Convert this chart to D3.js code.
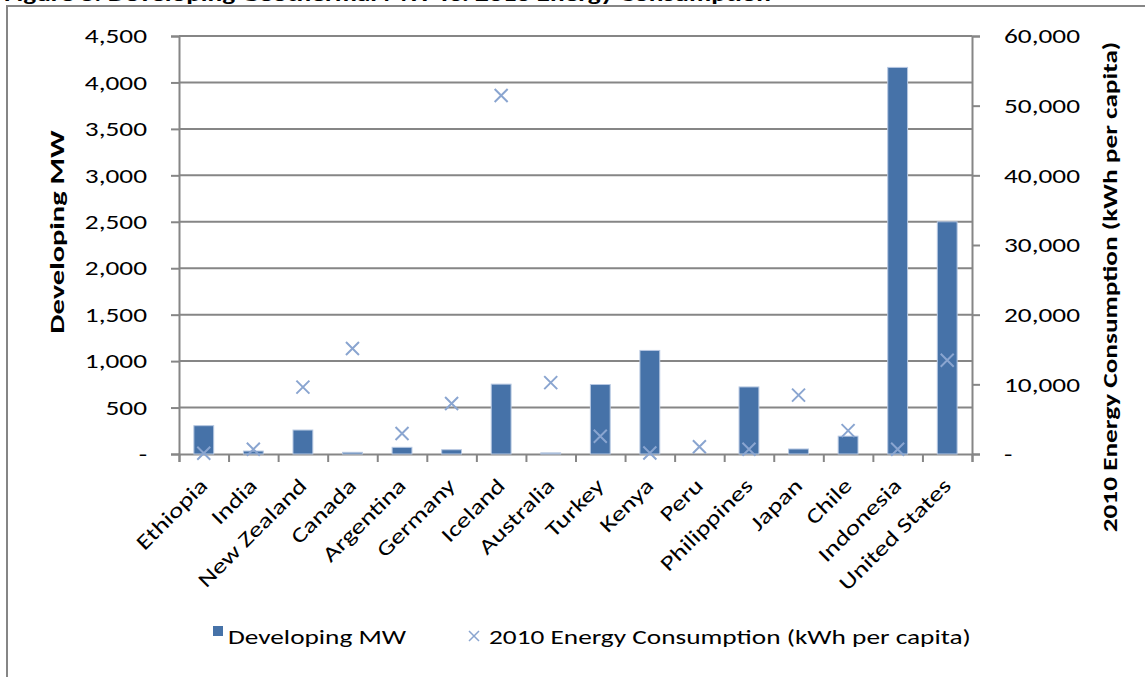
<!DOCTYPE html>
<html>
<head>
<meta charset="utf-8">
<script src="https://cdn.jsdelivr.net/npm/d3@7"></script>
<style>
  body { margin: 0; background: #fff; }
  svg text { font-family: Carlito, Calibri, Lato, sans-serif; fill: #000; }
</style>
</head>
<body>
<svg id="chart" width="1145" height="677"></svg>
<script>

// data
const countries = ["Ethiopia", "India", "New Zealand", "Canada", "Argentina", "Germany",
    "Iceland", "Australia", "Turkey", "Kenya", "Peru", "Philippines", "Japan", "Chile",
    "Indonesia", "United States"]
const developingMW = [305, 32, 258, 18, 72, 46, 752, 12, 748, 1115, 0, 722, 54, 192, 4162, 2500]
const energyKwh = [100, 680, 9600, 15150, 2950, 7250, 51450, 10250, 2550, 150, 1050, 680, 8450, 3350, 680, 13450]
const leftTicks = [0, 500, 1000, 1500, 2000, 2500, 3000, 3500, 4000, 4500]
const rightTicks = [0, 10000, 20000, 30000, 40000, 50000, 60000]

const grey = "#868686"
const barColor = "#4672a8"
const markColor = "#8aa5d0"
const wide = 1.3   // the text in the picture is drawn wider than Lato

const svg = d3.select("#chart")

// outer chart frame (runs off the right and bottom of the picture)
svg.append("rect")
    .attr("x", 7).attr("y", 6)
    .attr("width", 1200).attr("height", 720)
    .attr("fill", "none").attr("stroke", grey).attr("stroke-width", 2)

// title, mostly cut off at the top
svg.append("text")
    .attr("transform", "translate(4,1) scale(" + wide + ",1)")
    .style("font-size", "21px").style("font-weight", "bold")
    .text("Figure 3: Developing Geothermal MW vs. 2010 Energy Consumption")

const plot = {left: 179, right: 972, top: 36, bottom: 454}

const yL = d3.scaleLinear().domain([0, 4500]).range([plot.bottom, plot.top])
const yR = d3.scaleLinear().domain([0, 60000]).range([plot.bottom, plot.top])
const x = d3.scaleBand().domain(countries).range([plot.left, plot.right])
    .paddingInner(0.6).paddingOuter(0.3)
const xEdge = d3.scaleLinear().domain([0, countries.length]).range([plot.left, plot.right])

const fmt = (d) => d === 0 ? "-" : d3.format(",")(d)

// gridlines
svg.append("g").selectAll("line")
    .data(leftTicks.filter(d => d > 0))
    .join("line")
        .attr("x1", plot.left).attr("x2", plot.right)
        .attr("y1", d => yL(d)).attr("y2", d => yL(d))
        .attr("stroke", grey).attr("stroke-width", 2)

// left axis
const gL = svg.append("g")
    .attr("transform", "translate(" + plot.left + ",0)")
    .call(d3.axisLeft(yL).tickValues(leftTicks).tickSize(8).tickPadding(24).tickFormat(fmt))
gL.selectAll("text")
    .style("font-size", "21px")
    .attr("x", -32 / wide)
    .attr("transform", "scale(" + wide + ",1)")

// right axis
const gR = svg.append("g")
    .attr("transform", "translate(" + plot.right + ",0)")
    .call(d3.axisRight(yR).tickValues(rightTicks).tickSize(8).tickPadding(24).tickFormat(fmt))
gR.selectAll("text")
    .style("font-size", "21px")
    .attr("x", 32 / wide)
    .attr("transform", "scale(" + wide + ",1)")

// bottom axis, ticks between categories
svg.append("g")
    .attr("transform", "translate(0," + plot.bottom + ")")
    .call(d3.axisBottom(xEdge).tickValues(d3.range(countries.length + 1)).tickSize(8).tickFormat(""))

svg.selectAll(".domain").attr("stroke", grey).attr("stroke-width", 2)
svg.selectAll(".tick line").attr("stroke", grey).attr("stroke-width", 2)

// bars
svg.append("g").selectAll("rect")
    .data(countries.map((c, i) => [c, developingMW[i]]))
    .join("rect")
        .attr("x", d => x(d[0]))
        .attr("y", d => yL(d[1]))
        .attr("width", x.bandwidth())
        .attr("height", d => plot.bottom - yL(d[1]))
        .attr("fill", barColor)
        .attr("stroke", "#b7c8e2").attr("stroke-width", 1)

// x markers
const xMark = (cx, cy, r) => "M" + (cx - r) + "," + (cy - r) + "L" + (cx + r) + "," + (cy + r) +
    "M" + (cx - r) + "," + (cy + r) + "L" + (cx + r) + "," + (cy - r)

svg.append("g").selectAll("path")
    .data(countries.map((c, i) => [c, energyKwh[i]]))
    .join("path")
        .attr("d", d => xMark(x(d[0]) + x.bandwidth() / 2, yR(d[1]), 6.5))
        .attr("stroke", markColor).attr("stroke-width", 2).attr("fill", "none")

// category labels
svg.append("g").selectAll("text")
    .data(countries)
    .join("text")
        .attr("transform", d => "translate(" + (x(d) + x.bandwidth() / 2 + 5) + ",487) rotate(-45) scale(" + wide + ",1)")
        .attr("text-anchor", "end")
        .style("font-size", "21px")
        .text(d => d)

// axis titles
svg.append("text")
    .attr("transform", "translate(64,232) rotate(-90) scale(1.45,1)")
    .attr("text-anchor", "middle")
    .style("font-size", "21px").style("font-weight", "bold")
    .text("Developing MW")

svg.append("text")
    .attr("transform", "translate(1117,287) rotate(-90) scale(" + wide + ",1)")
    .attr("text-anchor", "middle")
    .style("font-size", "21px").style("font-weight", "bold")
    .text("2010 Energy Consumption (kWh per capita)")

// legend
const leg = svg.append("g")
leg.append("rect")
    .attr("x", 213).attr("y", 626).attr("width", 10).attr("height", 10)
    .attr("fill", barColor)
leg.append("text")
    .attr("transform", "translate(228,644) scale(" + wide + ",1)")
    .style("font-size", "21px")
    .text("Developing MW")
leg.append("path")
    .attr("d", xMark(474, 636, 5))
    .attr("stroke", markColor).attr("stroke-width", 1.5).attr("fill", "none")
leg.append("text")
    .attr("transform", "translate(489,644) scale(" + wide + ",1)")
    .style("font-size", "21px")
    .text("2010 Energy Consumption (kWh per capita)")

</script>
</body>
</html>
